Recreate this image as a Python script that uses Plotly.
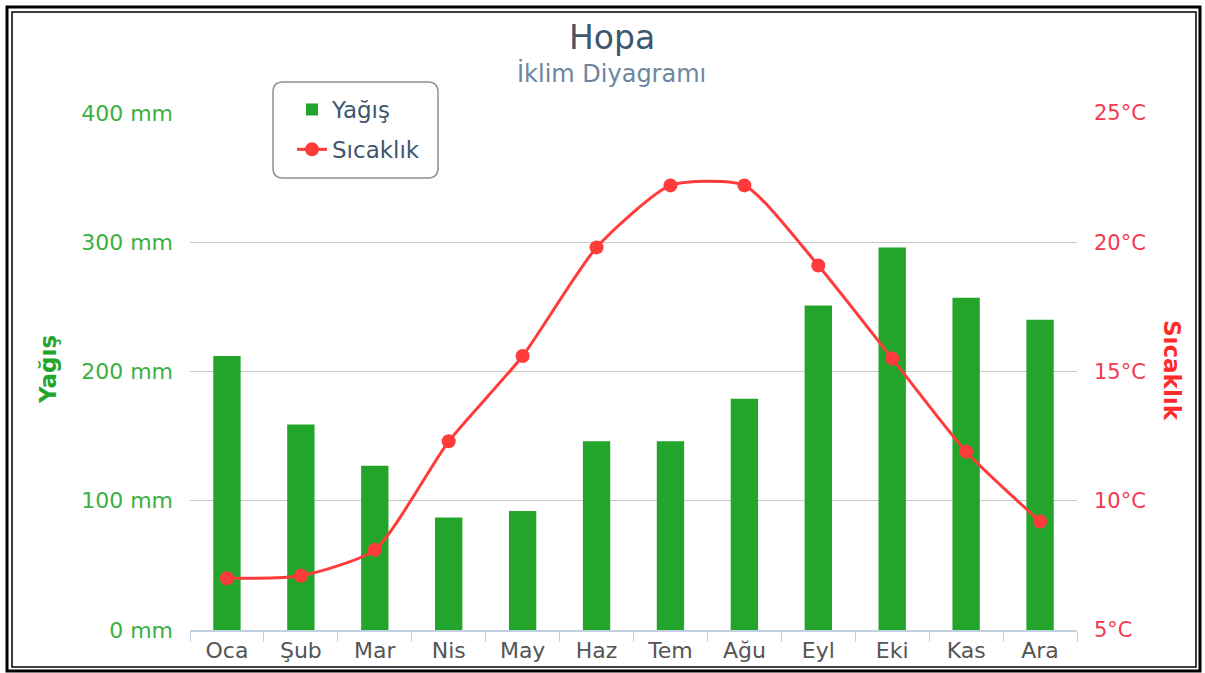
import plotly.graph_objects as go

months = ["Oca", "Şub", "Mar", "Nis", "May", "Haz", "Tem", "Ağu", "Eyl", "Eki", "Kas", "Ara"]
precip_mm = [212, 159, 127, 87, 92, 146, 146, 179, 251, 296, 257, 240]
temp_c = [7.0, 7.1, 8.1, 12.3, 15.6, 19.8, 22.2, 22.2, 19.1, 15.5, 11.9, 9.2]

W, H = 1205, 673
L, R, T, B = 190, 1077, 113, 630

def px(x):
    return (x - L) / (R - L)

def py(y):
    return (B - y) / (B - T)

GREEN = "#22a52a"
RED = "#ff3b3b"

fig = go.Figure()
fig.add_trace(go.Bar(
    x=months, y=precip_mm, name="Yağış", marker=dict(color=GREEN, line=dict(width=0)),
    width=0.37, yaxis="y", legendgroup="a",
))
fig.add_trace(go.Scatter(
    x=months, y=temp_c, name="Sıcaklık", mode="lines+markers", yaxis="y2",
    line=dict(color=RED, width=3, shape="spline", smoothing=0.6),
    marker=dict(color=RED, size=14), legendgroup="b",
))

shapes = []
# double border
shapes.append(dict(type="rect", xref="paper", yref="paper", x0=px(7), x1=px(1200), y0=py(7), y1=py(671),
                   line=dict(color="black", width=3), fillcolor="rgba(0,0,0,0)", layer="above"))
shapes.append(dict(type="rect", xref="paper", yref="paper", x0=px(12), x1=px(1196), y0=py(12), y1=py(667),
                   line=dict(color="black", width=1.5), fillcolor="rgba(0,0,0,0)", layer="above"))
# rounded legend box
x0, x1, y0, y1, r = 273, 438, 82, 178, 10
path = (f"M {px(x0+r)},{py(y0)} L {px(x1-r)},{py(y0)} Q {px(x1)},{py(y0)} {px(x1)},{py(y0+r)} "
        f"L {px(x1)},{py(y1-r)} Q {px(x1)},{py(y1)} {px(x1-r)},{py(y1)} "
        f"L {px(x0+r)},{py(y1)} Q {px(x0)},{py(y1)} {px(x0)},{py(y1-r)} "
        f"L {px(x0)},{py(y0+r)} Q {px(x0)},{py(y0)} {px(x0+r)},{py(y0)} Z")
shapes.append(dict(type="path", xref="paper", yref="paper", path=path,
                   line=dict(color="#909090", width=1.5), fillcolor="white", layer="above"))

annotations = [
    dict(text="Hopa", x=px(612), y=py(38), xref="paper", yref="paper", showarrow=False,
         font=dict(family="DejaVu Sans", size=33, color="#3E576F"), xanchor="center", yanchor="middle"),
    dict(text="İklim Diyagramı", x=px(611), y=py(73), xref="paper", yref="paper", showarrow=False,
         font=dict(family="DejaVu Sans", size=24, color="#6D869F"), xanchor="center", yanchor="middle"),
    dict(text="<b>Yağış</b>", x=px(48), y=py(370), xref="paper", yref="paper", showarrow=False, textangle=-90,
         font=dict(family="DejaVu Sans", size=23, color=GREEN), xanchor="center", yanchor="middle"),
    dict(text="<b>Sıcaklık</b>", x=px(1172), y=py(370), xref="paper", yref="paper", showarrow=False, textangle=90,
         font=dict(family="DejaVu Sans", size=23, color="#ff2a2a"), xanchor="center", yanchor="middle"),
]

fig.update_layout(
    width=W, height=H,
    margin=dict(l=L, r=W - R, t=T, b=H - B, autoexpand=False),
    paper_bgcolor="white", plot_bgcolor="white",
    font=dict(family="DejaVu Sans", size=22, color="#555"),
    showlegend=True,
    legend=dict(x=px(292), y=py(88), xanchor="left", yanchor="top", bgcolor="rgba(0,0,0,0)",
                borderwidth=0, font=dict(size=23, color="#3E576F"), tracegroupgap=7,
                itemwidth=30),
    xaxis=dict(type="category", showgrid=False, showline=True, linecolor="#C0D0E0", linewidth=1.5,
               ticks="outside", tickson="boundaries", ticklen=10, tickcolor="#C0D0E0",
               tickfont=dict(size=22, color="#555"), range=[-0.5, 11.5]),
    yaxis=dict(range=[0, 400], dtick=100, ticksuffix=" mm", showgrid=True, gridcolor="#C8C8C8",
               gridwidth=1, zeroline=False, showline=False, ticks="", ticklabelstandoff=16,
               tickfont=dict(size=22, color="#3cb043")),
    yaxis2=dict(range=[5, 25], dtick=5, ticksuffix="°C", overlaying="y", side="right", showgrid=False,
                zeroline=False, showline=False, ticks="", ticklabelstandoff=16,
                tickfont=dict(size=21, color="#f5374f")),
    shapes=shapes, annotations=annotations, bargap=0.6,
)

fig.write_html("out.html", config={"displayModeBar": False},
               post_script="document.body.style.margin='0px';document.body.style.overflow='hidden';")
